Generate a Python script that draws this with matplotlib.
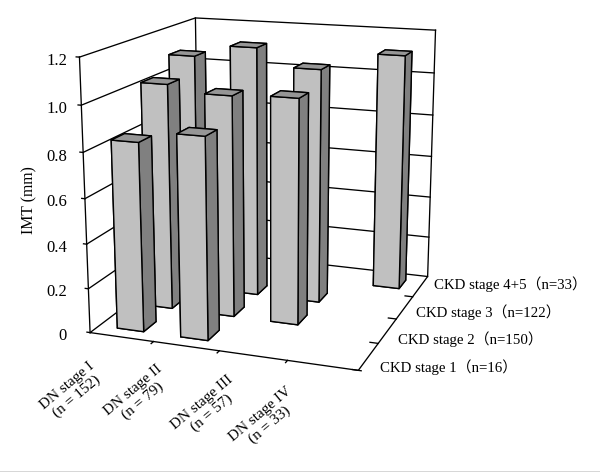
import numpy as np
import matplotlib
matplotlib.use("Agg")
import matplotlib.pyplot as plt

plt.rcParams['font.family'] = ['Liberation Serif', 'Noto Sans CJK SC']

dn_labels = ["DN stage I\n(n = 152)", "DN stage II\n(n = 79)", "DN stage III\n(n = 57)", "DN stage IV\n(n = 33)"]
ckd_labels = ["CKD stage 1（n=16）", "CKD stage 2（n=150）", "CKD stage 3（n=122）", "CKD stage 4+5（n=33）"]
z_ticks = [0, 0.2, 0.4, 0.6, 0.8, 1.0, 1.2]
z_labels = ["0", "0.2", "0.4", "0.6", "0.8", "1.0", "1.2"]

# one list per DN stage, one value per CKD stage, nan = no bar
dn1 = [0.84, 1.03, 1.105, np.nan]
dn2 = [0.89, 1.00, 1.16, np.nan]
dn3 = [np.nan, 1.01, 1.08, np.nan]
dn4 = [np.nan, np.nan, np.nan, 1.11]
values = [dn1, dn2, dn3, dn4]

fig = plt.figure(figsize=(6, 4.72), dpi=100)
ax = fig.add_subplot(projection="3d", computed_zorder=False)
ax.set_xlim(0, 4)
ax.set_ylim(0, 4)
ax.set_zlim(0, 1.2)
ax.set_axis_off()

# view fitted against the corners of the box in the original
ax.view_init(elev=14.904, azim=-70.069, roll=0.057)
ax.set_proj_type("persp", focal_length=0.534)
ax.set_box_aspect((1.001, 1.006, 1.0))
ax.set_position([35.824 / 600, 62.929 / 472, 453.31 / 600, 453.31 / 472])

# walls and floor
line = dict(color="black", lw=0.95, zorder=1)
ax.plot([0, 4, 4, 0, 0], [0, 0, 4, 4, 0], [0, 0, 0, 0, 0], **line)
for z in z_ticks[1:]:
    ax.plot([0, 0, 4], [0, 4, 4], [z, z, z], **line)
ax.plot([0, 0], [0, 0], [0, 1.2], **line)
ax.plot([0, 0], [4, 4], [0, 1.2], **line)
ax.plot([4, 4], [4, 4], [0, 1.2], **line)

# ticks
for z in z_ticks:
    ax.plot([-0.05, 0], [0, 0], [z, z], **line)
for i in range(1, 4):
    ax.plot([i, i], [-0.08, 0], [0, 0], **line)
ax.plot([3.92, 4.04], [0, 0], [0, 0], **line)
for i in range(1, 4):
    ax.plot([3.88, 4], [i, i], [0, 0], **line)

# bars, back to front
w = 0.42
off = (1 - w) / 2
order = 10
for j in (3, 2, 1, 0):
    for i in range(4):
        v = values[i][j]
        if np.isnan(v):
            continue
        # bottom, top, front, back, left, right
        faces = ["#808080", "#969696", "#c0c0c0", "#808080", "#808080", "#808080"]
        ax.bar3d(i + off, j + off, 0, w, w, v, color=faces, shade=False,
                 edgecolor="black", linewidth=1.0, zorder=order)
        order += 1

# text
for lab, yy in zip(z_labels, [336, 292, 248, 202, 157, 109, 61]):
    fig.text(67 / 600, 1 - yy / 472, lab, fontsize=12, ha="right", va="center")
fig.text(29 / 600, 1 - 200 / 472, "IMT (mm)", fontsize=11.3, rotation=90, ha="center", va="center")
for lab, xx, yy in zip(dn_labels, [72, 138, 207, 265], [391, 396, 408, 420]):
    fig.text(xx / 600, 1 - yy / 472, lab, fontsize=11, rotation=40, ha="center", va="center",
             multialignment="center", linespacing=1.05)
for lab, xx, yy in zip(ckd_labels, [380, 398, 416, 434], [367, 339, 312, 284]):
    fig.text(xx / 600, 1 - yy / 472, lab, fontsize=10.7, ha="left", va="center")

# thin rule along the bottom edge
fig.add_artist(plt.Line2D([0, 1], [0.5 / 472, 0.5 / 472], color="#d0d0d0", lw=1.2))

fig.savefig("out.png", dpi=100)
